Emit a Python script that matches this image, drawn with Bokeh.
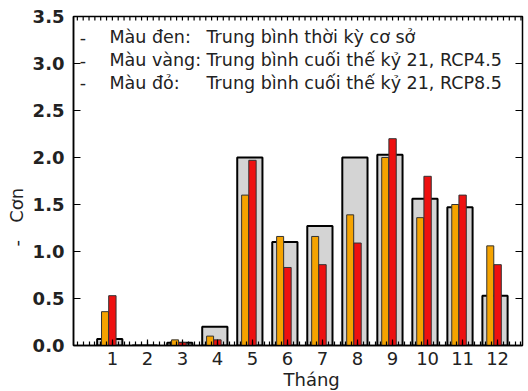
import numpy as np
from bokeh.plotting import figure
from bokeh.models import Range1d, LinearAxis, FixedTicker, Label, ColumnDataSource, Title, PrintfTickFormatter
from bokeh.embed import file_html
from bokeh.resources import INLINE

months = [1, 2, 3, 4, 5, 6, 7, 8, 9, 10, 11, 12]
baseline = [0.07, 0.0, 0.03, 0.2, 2.0, 1.10, 1.27, 2.0, 2.03, 1.56, 1.47, 0.53]
rcp45 = [0.36, 0.0, 0.06, 0.10, 1.60, 1.16, 1.16, 1.39, 2.0, 1.36, 1.50, 1.06]
rcp85 = [0.53, 0.0, 0.03, 0.06, 1.97, 0.83, 0.86, 1.09, 2.2, 1.80, 1.60, 0.86]
legend_keys = ["Màu đen:", "Màu vàng:", "Màu đỏ:"]
legend_texts = ["Trung bình thời kỳ cơ sở",
                "Trung bình cuối thế kỷ 21, RCP4.5",
                "Trung bình cuối thế kỷ 21, RCP8.5"]
y_ticks = [0.0, 0.5, 1.0, 1.5, 2.0, 2.5, 3.0, 3.5]

X0, X1, Y0, Y1 = -0.11, 12.71, 0.0, 3.5

m = np.array(months, dtype=float)
src = ColumnDataSource(dict(
    xg=m - 0.075, xo=m - 0.21, xr=m + 0.0,
    base=baseline, r45=rcp45, r85=rcp85))

FONT = "DejaVu Sans"

p = figure(width=528, height=391, x_range=Range1d(X0, X1), y_range=Range1d(Y0, Y1),
           output_backend="svg", toolbar_location=None,
           min_border_left=73, min_border_right=6, min_border_top=16, min_border_bottom=46,
           x_axis_location=None, y_axis_location=None)
p.grid.visible = False
p.outline_line_color = "black"
p.outline_line_width = 1.5

minor = [v for v in np.round(np.arange(-0.5, 13.0, 1 / 6), 4) if X0 < v < X1]

xa = LinearAxis(ticker=FixedTicker(ticks=months, minor_ticks=minor))
xa.major_tick_in = 6
xa.major_tick_out = 0
xa.minor_tick_in = 4
xa.minor_tick_out = 0
xa.axis_line_width = 1.5
xa.major_tick_line_width = 1.2
xa.minor_tick_line_width = 1.2
xa.major_label_text_font = FONT
xa.major_label_text_font_size = "18px"
xa.major_label_text_color = "#222222"
xa.major_label_standoff = 6
p.add_layout(xa, "below")

ya = LinearAxis(ticker=FixedTicker(ticks=y_ticks, minor_ticks=[]),
                formatter=PrintfTickFormatter(format="%.1f"))
ya.major_tick_in = 7
ya.major_tick_out = 0
ya.minor_tick_in = 0
ya.minor_tick_out = 0
ya.axis_line_width = 1.5
ya.major_tick_line_width = 1.2
ya.major_label_text_font = FONT
ya.major_label_text_font_size = "18px"
ya.major_label_text_font_style = "bold"
ya.major_label_text_color = "#222222"
ya.major_label_standoff = 9
p.add_layout(ya, "left")

# top and right inward ticks (mirror of the axes)
tl = 4 / 94.0
p.segment(x0=minor, y0=[Y1] * len(minor), x1=minor, y1=[Y1 - tl] * len(minor),
          line_color="black", line_width=1.2)
rl = 7 / 35.0
p.segment(x0=[X1 - rl] * len(y_ticks), y0=y_ticks, x1=[X1] * len(y_ticks), y1=y_ticks,
          line_color="black", line_width=1.2)

p.vbar(x="xg", top="base", width=0.72, bottom=0, source=src,
       fill_color="#d4d4d4", line_color="black", line_width=2)
p.vbar(x="xo", top="r45", width=0.2, bottom=0, source=src,
       fill_color="#f5a300", line_color="#333333", line_width=1)
p.vbar(x="xr", top="r85", width=0.21, bottom=0, source=src,
       fill_color="#ee1010", line_color="#333333", line_width=1)

leg_y = [3.277, 3.037, 2.793]
for i in range(3):
    for xv, t, al in [(0.16, "-", "center"), (0.917, legend_keys[i], "left"), (3.687, legend_texts[i], "left")]:
        p.add_layout(Label(x=xv, y=leg_y[i], text=t, text_font=FONT, text_font_size="17.5px",
                           text_color="#222222", text_align=al, text_baseline="alphabetic"))

p.add_layout(Title(text="Tháng", align="left", offset=210, standoff=-2, text_font=FONT,
                   text_font_size="18px", text_font_style="normal", text_color="#222222"), "below")
p.add_layout(Title(text="-\u00a0\u00a0\u00a0Cơn", align="left", offset=99, standoff=5, text_font=FONT,
                   text_font_size="18px", text_font_style="normal", text_color="#222222"), "left")

open("out.html", "w").write(file_html(p, INLINE))
